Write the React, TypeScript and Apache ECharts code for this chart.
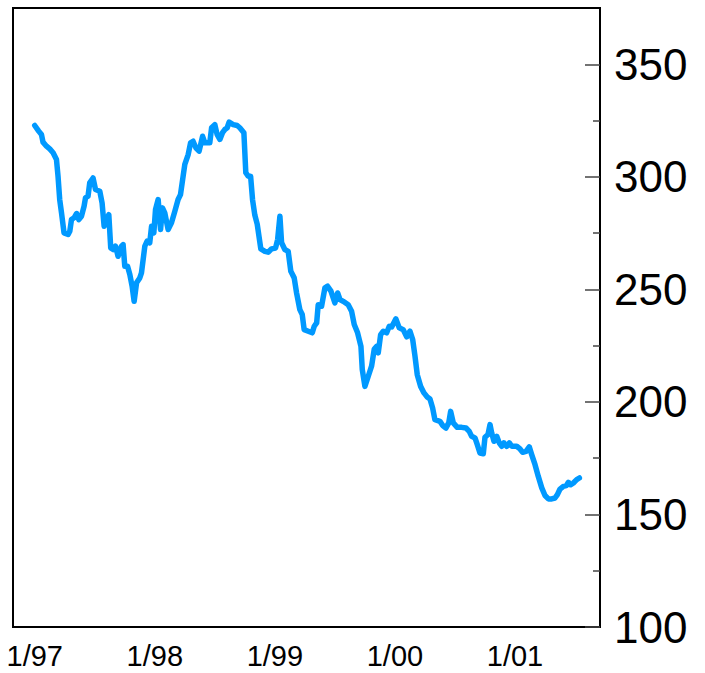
import React, { useEffect, useRef } from "react";
import * as echarts from "echarts";

// Decimal year of each observation
const years: number[] = [
  1997.000, 1997.033, 1997.056, 1997.069, 1997.098, 1997.125, 1997.153, 1997.181, 1997.194, 1997.208,
  1997.223, 1997.244, 1997.278, 1997.292, 1997.306, 1997.328, 1997.348, 1997.367, 1997.389, 1997.411,
  1997.423, 1997.444, 1997.458, 1997.486, 1997.506, 1997.542, 1997.561, 1997.578, 1997.598, 1997.617,
  1997.633, 1997.653, 1997.673, 1997.694, 1997.723, 1997.736, 1997.750, 1997.773, 1997.792, 1997.811,
  1997.828, 1997.848, 1997.875, 1997.889, 1997.917, 1997.936, 1997.958, 1997.973, 1997.992, 1998.006,
  1998.028, 1998.048, 1998.064, 1998.083, 1998.111, 1998.139, 1998.167, 1998.194, 1998.214, 1998.236,
  1998.250, 1998.278, 1998.298, 1998.319, 1998.342, 1998.369, 1998.398, 1998.417, 1998.458, 1998.473,
  1998.500, 1998.519, 1998.542, 1998.564, 1998.583, 1998.603, 1998.619, 1998.653, 1998.686, 1998.708,
  1998.742, 1998.758, 1998.778, 1998.798, 1998.814, 1998.833, 1998.853, 1998.883, 1998.917, 1998.944,
  1998.973, 1999.006, 1999.023, 1999.042, 1999.056, 1999.083, 1999.111, 1999.133, 1999.161, 1999.181,
  1999.208, 1999.228, 1999.244, 1999.278, 1999.311, 1999.328, 1999.348, 1999.361, 1999.389, 1999.417,
  1999.439, 1999.467, 1999.500, 1999.523, 1999.542, 1999.569, 1999.611, 1999.639, 1999.661, 1999.689,
  1999.717, 1999.728, 1999.750, 1999.778, 1999.806, 1999.828, 1999.848, 1999.861, 1999.881, 1999.903,
  1999.931, 1999.953, 1999.973, 2000.008, 2000.036, 2000.069, 2000.098, 2000.125, 2000.148, 2000.167,
  2000.186, 2000.214, 2000.242, 2000.269, 2000.292, 2000.314, 2000.333, 2000.375, 2000.398, 2000.425,
  2000.448, 2000.464, 2000.486, 2000.519, 2000.556, 2000.592, 2000.619, 2000.639, 2000.667, 2000.686,
  2000.708, 2000.736, 2000.750, 2000.775, 2000.792, 2000.806, 2000.825, 2000.848, 2000.869, 2000.889,
  2000.908, 2000.931, 2000.953, 2000.973, 2001.014, 2001.042, 2001.064, 2001.092, 2001.119, 2001.139,
  2001.167, 2001.194, 2001.223, 2001.250, 2001.278, 2001.306, 2001.333, 2001.353, 2001.375, 2001.403,
  2001.428, 2001.444, 2001.464, 2001.486, 2001.514, 2001.536,
];

const values: number[] = [
  322.8, 320.3, 318.8, 315.4, 313.6, 312.4, 310.7, 307.7, 300.3, 289.9,
  284.0, 275.1, 274.4, 275.8, 281.0, 281.8, 283.7, 281.0, 282.5, 286.9,
  290.7, 291.4, 297.3, 299.5, 294.4, 293.6, 288.4, 278.0, 281.0, 283.2,
  268.4, 267.7, 269.2, 264.7, 269.2, 269.9, 260.3, 260.3, 256.6, 251.4,
  244.7, 252.9, 255.1, 257.3, 269.2, 271.4, 270.7, 278.0, 275.1, 285.5,
  289.9, 276.6, 286.2, 284.0, 276.6, 279.6, 284.7, 289.9, 292.1, 300.3,
  305.5, 309.9, 315.1, 315.8, 312.9, 311.4, 318.0, 315.1, 315.1, 321.8,
  323.2, 318.8, 316.6, 319.6, 321.0, 321.8, 324.3, 323.2, 322.8, 321.8,
  319.6, 301.8, 300.3, 300.3, 289.9, 283.0, 279.0, 268.0, 266.9, 266.5,
  268.0, 268.4, 272.1, 282.5, 270.7, 267.7, 266.9, 258.0, 255.1, 248.4,
  241.0, 238.8, 232.1, 231.4, 230.7, 233.6, 235.1, 243.2, 242.5, 250.7,
  251.4, 249.2, 244.0, 248.4, 245.5, 244.7, 243.2, 240.3, 234.4, 230.7,
  224.7, 214.4, 206.9, 211.4, 216.0, 223.5, 224.7, 221.8, 229.9, 231.4,
  230.7, 233.6, 233.3, 236.9, 232.9, 232.1, 228.9, 231.4, 227.7, 220.3,
  212.1, 206.9, 204.0, 202.2, 201.3, 197.3, 192.1, 191.4, 189.5, 188.4,
  190.7, 195.8, 190.7, 188.7, 188.7, 188.4, 186.9, 184.7, 184.0, 181.0,
  177.3, 177.0, 184.3, 185.5, 189.9, 186.2, 182.5, 184.7, 181.8, 180.3,
  181.8, 180.3, 181.8, 180.3, 180.3, 179.1, 177.6, 178.0, 180.0, 176.6,
  172.1, 166.9, 161.8, 158.4, 156.9, 156.9, 157.3, 158.8, 161.3, 162.5,
  162.8, 164.3, 163.2, 164.0, 165.5, 166.2,
];

const xLabelYears: number[] = [1997, 1998, 1999, 2000, 2001];
const yMajorTicks: number[] = [100, 150, 200, 250, 300, 350];
const yMinorTicks: number[] = [125, 175, 225, 275, 325];

export default function App() {
  const ref = useRef<HTMLDivElement>(null);

  useEffect(() => {
    if (!ref.current) return;
    const chart = echarts.init(ref.current, undefined, { renderer: "svg" });
    const font = "'Liberation Sans', Arial, Helvetica, sans-serif";
    chart.setOption({
      animation: false,
      backgroundColor: "#ffffff",
      grid: {
        left: 13,
        right: 105,
        top: 8,
        bottom: 46,
        show: true,
        borderColor: "#000000",
        borderWidth: 2,
        backgroundColor: "transparent",
      },
      xAxis: {
        type: "value",
        min: 1996.819,
        max: 2001.708,
        axisLine: { show: false },
        axisTick: { show: false },
        splitLine: { show: false },
        axisLabel: {
          customValues: xLabelYears,
          formatter: (v: number) => "1/" + String(Math.round(v)).slice(2),
          fontSize: 29,
          fontFamily: font,
          color: "#000000",
          margin: 14,
        },
      },
      yAxis: [
        {
          type: "value",
          position: "right",
          min: 100,
          max: 375,
          axisLine: { show: false },
          splitLine: { show: false },
          axisTick: {
            show: true,
            inside: true,
            length: 15,
            customValues: yMajorTicks,
            lineStyle: { color: "#444444", width: 1.5 },
          },
          axisLabel: {
            customValues: yMajorTicks,
            fontSize: 44,
            fontFamily: font,
            color: "#000000",
            margin: 14,
          },
        },
        {
          type: "value",
          position: "right",
          min: 100,
          max: 375,
          axisLine: { show: false },
          splitLine: { show: false },
          axisLabel: { show: false },
          axisTick: {
            show: true,
            inside: true,
            length: 7,
            customValues: yMinorTicks,
            lineStyle: { color: "#444444", width: 1.5 },
          },
        },
      ],
      series: [
        {
          type: "line",
          yAxisIndex: 0,
          data: years.map((y, i) => [y, values[i]]),
          showSymbol: false,
          symbol: "none",
          lineStyle: { color: "#0099ff", width: 5.5, join: "round", cap: "round" },
        },
      ],
    });
    return () => chart.dispose();
  }, []);

  return (
    <div
      ref={ref}
      style={{ position: "absolute", left: 0, top: 0, width: 705, height: 673 }}
    />
  );
}
